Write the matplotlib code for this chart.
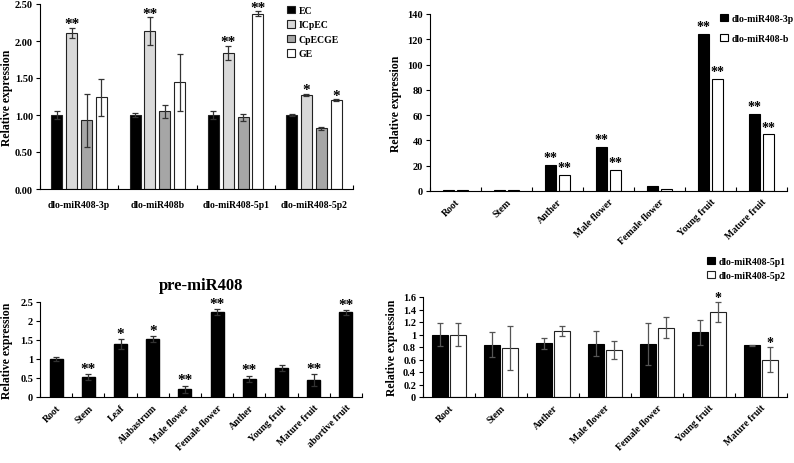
import numpy as np
import matplotlib
matplotlib.use("Agg")
import matplotlib.pyplot as plt

plt.rcParams['font.family'] = ['Liberation Serif', 'DejaVu Serif']
plt.rcParams['font.weight'] = 'bold'

# ---- panel A: tissue treatments ----
a_groups = ["dlo-miR408-3p", "dlo-miR408b", "dlo-miR408-5p1", "dlo-miR408-5p2"]
a_series = ["EC", "ICpEC", "CpECGE", "GE"]
a_vals = [[1.00, 1.00, 1.00, 1.00],
          [2.11, 2.13, 1.84, 1.27],
          [0.93, 1.05, 0.97, 0.82],
          [1.24, 1.44, 2.37, 1.20]]
a_err = [[0.05, 0.03, 0.05, 0.01],
         [0.07, 0.19, 0.09, 0.01],
         [0.36, 0.09, 0.05, 0.02],
         [0.25, 0.38, 0.03, 0.01]]
a_sig = [["", "", "", ""],
         ["**", "**", "**", "*"],
         ["", "", "", ""],
         ["", "", "**", "*"]]
a_colors = ["black", "#d9d9d9", "#a6a6a6", "white"]

# ---- panel B: 3p / b across tissues ----
b_cats = ["Root", "Stem", "Anther", "Male flower", "Female flower", "Young fruit", "Mature fruit"]
b_3p = [1.0, 0.9, 20.8, 34.8, 4.2, 124.5, 60.8]
b_b = [1.1, 1.1, 12.9, 16.8, 1.6, 88.8, 44.8]
b_sig_3p = ["", "", "**", "**", "", "**", "**"]
b_sig_b = ["", "", "**", "**", "", "**", "**"]

# ---- panel C: pre-miR408 ----
c_cats = ["Root", "Stem", "Leaf", "Alabastrum", "Male flower", "Female flower",
          "Anther", "Young fruit", "Mature fruit", "abortive fruit"]
c_vals = [1.0, 0.52, 1.40, 1.53, 0.20, 2.23, 0.48, 0.76, 0.45, 2.23]
c_err = [0.05, 0.08, 0.13, 0.07, 0.10, 0.08, 0.08, 0.08, 0.15, 0.06]
c_sig = ["", "**", "*", "*", "**", "**", "**", "", "**", "**"]

# ---- panel D: 5p1 / 5p2 across tissues ----
d_cats = b_cats
d_5p1 = [1.00, 0.84, 0.86, 0.85, 0.85, 1.04, 0.83]
d_5p1_err = [0.18, 0.20, 0.09, 0.20, 0.33, 0.20, 0.01]
d_5p2 = [1.00, 0.79, 1.05, 0.75, 1.11, 1.36, 0.60]
d_5p2_err = [0.19, 0.35, 0.08, 0.14, 0.17, 0.16, 0.20]
d_sig_5p2 = ["", "", "", "", "", "*", "*"]

W, H = 794, 464
fig = plt.figure(figsize=(W / 100, H / 100), dpi=100)


def px_axes(l, t, r, b):
    ax = fig.add_axes([l / W, 1 - b / H, (r - l) / W, (b - t) / H])
    ax._px = (l, r)
    return ax


def style(ax, n):
    for s in ["top", "right"]:
        ax.spines[s].set_visible(False)
    ax.set_xlim(0, n)
    ax.set_xticks(np.arange(n + 1))
    ax.set_xticklabels([])
    ax.tick_params(axis="x", direction="in", length=3, width=0.8)
    ax.tick_params(axis="y", direction="out", length=3, width=0.8, labelsize=7.5, pad=2)
    ax.set_xticks(np.arange(n) + 0.5, minor=True)
    ax.tick_params(axis="x", which="minor", length=0)


def ylab(ax, xpx):
    l, r = ax._px
    ax.set_ylabel("Relative expression", fontsize=8.5, fontweight="bold")
    ax.yaxis.set_label_coords((xpx - l) / (r - l), 0.5)


ek = dict(elinewidth=0.9, capsize=2, capthick=0.9, ecolor="#333333")
leg_kw = dict(frameon=False, handlelength=0.8, handleheight=0.8, handletextpad=0.4,
              borderpad=0, borderaxespad=0, prop={"weight": "bold", "size": 7})

# panel A
ax = px_axes(40, 5, 353, 190)
style(ax, len(a_groups))
x = np.arange(len(a_groups)) + 0.5
bw = 0.14
step = 0.19
for i, s in enumerate(a_series):
    xs = x + (i - 1.5) * step
    ax.bar(xs, a_vals[i], bw, yerr=a_err[i], color=a_colors[i],
           edgecolor="#222222", linewidth=0.8, label=s, error_kw=ek)
    for xx, v, e, sg in zip(xs, a_vals[i], a_err[i], a_sig[i]):
        if sg:
            ax.text(xx, v + e - 0.03, sg, ha="center", va="bottom", fontsize=11, fontweight="bold")
ax.set_ylim(0, 2.5)
ax.set_yticks(np.arange(0, 2.51, 0.5))
ax.set_yticklabels(["%.2f" % v for v in np.arange(0, 2.51, 0.5)], fontweight="bold")
ax.set_xticklabels(a_groups, minor=True, fontsize=7, fontweight="bold")
ax.tick_params(axis="x", which="minor", pad=8)
ylab(ax, 13)
ax.legend(loc="upper left", bbox_to_anchor=(0.79, 0.99), labelspacing=0.55, **leg_kw)

# panel B
ax = px_axes(430, 15, 787, 192)
style(ax, len(b_cats))
x = np.arange(len(b_cats)) + 0.5
bw = 0.22
ax.bar(x - 0.13, b_3p, bw, color="black", edgecolor="black", linewidth=0.8, label="dlo-miR408-3p")
ax.bar(x + 0.13, b_b, bw, color="white", edgecolor="black", linewidth=0.8, label="dlo-miR408-b")
for xx, v, sg in zip(x - 0.13, b_3p, b_sig_3p):
    if sg:
        ax.text(xx, v + 0.5, sg, ha="center", va="bottom", fontsize=10, fontweight="bold")
for xx, v, sg in zip(x + 0.13, b_b, b_sig_b):
    if sg:
        ax.text(xx, v + 0.5, sg, ha="center", va="bottom", fontsize=10, fontweight="bold")
ax.set_ylim(0, 140)
ax.set_yticks(np.arange(0, 141, 20))
ax.set_xticklabels(b_cats, minor=True, rotation=45, ha="right", rotation_mode="anchor",
                   fontsize=7, fontweight="bold")
ax.tick_params(axis="x", which="minor", pad=4)
ylab(ax, 402)
ax.legend(loc="upper left", bbox_to_anchor=(0.813, 1.0), labelspacing=1.1, **leg_kw)

# panel C
ax = px_axes(40, 303, 362, 398)
style(ax, len(c_cats))
x = np.arange(len(c_cats)) + 0.5
ax.bar(x, c_vals, 0.4, yerr=c_err, color="black", edgecolor="black", error_kw=ek)
for xx, v, e, sg in zip(x, c_vals, c_err, c_sig):
    if sg:
        ax.text(xx, v + e - 0.02, sg, ha="center", va="bottom", fontsize=11, fontweight="bold")
ax.set_ylim(0, 2.5)
ax.set_yticks([0, 0.5, 1, 1.5, 2, 2.5])
ax.set_yticklabels(["0", "0.5", "1", "1.5", "2", "2.5"], fontweight="bold")
ax.set_xticklabels(c_cats, minor=True, rotation=45, ha="right", rotation_mode="anchor",
                   fontsize=7, fontweight="bold")
ax.tick_params(axis="x", which="minor", pad=4)
ylab(ax, 13)
ax.set_title("pre-miR408", fontsize=12, fontweight="bold", pad=9)

# panel D
ax = px_axes(423, 298, 787, 398)
style(ax, len(d_cats))
x = np.arange(len(d_cats)) + 0.5
bw = 0.3
ekd = dict(elinewidth=0.9, capsize=2, capthick=0.9, ecolor="#555555")
ax.bar(x - 0.17, d_5p1, bw, yerr=d_5p1_err, color="black", edgecolor="black",
       linewidth=0.8, label="dlo-miR408-5p1", error_kw=ekd)
ax.bar(x + 0.17, d_5p2, bw, yerr=d_5p2_err, color="white", edgecolor="#222222",
       linewidth=0.8, label="dlo-miR408-5p2", error_kw=ekd)
for xx, v, e, sg in zip(x + 0.17, d_5p2, d_5p2_err, d_sig_5p2):
    if sg:
        ax.text(xx, v + e - 0.03, sg, ha="center", va="bottom", fontsize=10, fontweight="bold")
ax.set_ylim(0, 1.6)
ax.set_yticks([0, 0.2, 0.4, 0.6, 0.8, 1, 1.2, 1.4, 1.6])
ax.set_yticklabels(["0", "0.2", "0.4", "0.6", "0.8", "1", "1.2", "1.4", "1.6"], fontweight="bold")
ax.set_xticklabels(d_cats, minor=True, rotation=45, ha="right", rotation_mode="anchor",
                   fontsize=7, fontweight="bold")
ax.tick_params(axis="x", which="minor", pad=4)
ylab(ax, 398)
ax.legend(loc="upper left", bbox_to_anchor=(0.78, 1.4), labelspacing=0.5, **leg_kw)

fig.savefig("out.png", dpi=100, facecolor="white")
